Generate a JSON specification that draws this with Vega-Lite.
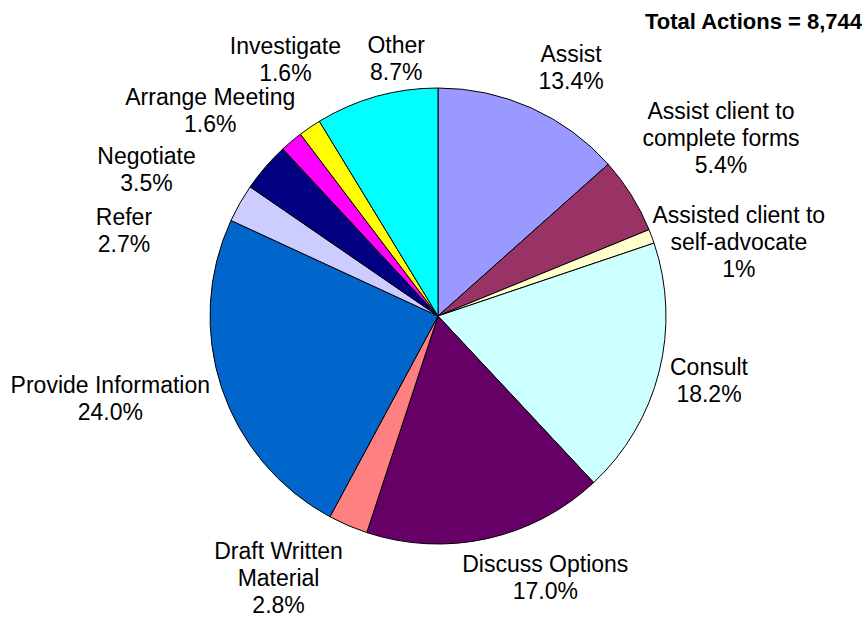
{
  "$schema": "https://vega.github.io/schema/vega-lite/v6.json",
  "width": 848,
  "height": 608,
  "autosize": "none",
  "padding": {"left": 14, "top": 12, "right": 0, "bottom": 0},
  "background": "white",
  "title": {
    "text": "Total Actions = 8,744",
    "anchor": "end",
    "frame": "group",
    "font": "Liberation Sans",
    "fontSize": 22,
    "fontWeight": "bold",
    "color": "black",
    "offset": -60
  },
  "config": {
    "view": {"stroke": null},
    "text": {"font": "Liberation Sans", "fontSize": 23, "lineHeight": 27, "align": "center", "baseline": "middle", "color": "black"}
  },
  "data": {
    "values": [
      {"idx": 1, "cat": "Assist", "pct": 13.4, "label": ["Assist", "13.4%"]},
      {"idx": 2, "cat": "Assist client to complete forms", "pct": 5.4, "label": ["Assist client to", "complete forms", "5.4%"]},
      {"idx": 3, "cat": "Assisted client to self-advocate", "pct": 1.0, "label": ["Assisted client to", "self-advocate", "1%"]},
      {"idx": 4, "cat": "Consult", "pct": 18.2, "label": ["Consult", "18.2%"]},
      {"idx": 5, "cat": "Discuss Options", "pct": 17.0, "label": ["Discuss Options", "17.0%"]},
      {"idx": 6, "cat": "Draft Written Material", "pct": 2.8, "label": ["Draft Written", "Material", "2.8%"]},
      {"idx": 7, "cat": "Provide Information", "pct": 24.0, "label": ["Provide Information", "24.0%"]},
      {"idx": 8, "cat": "Refer", "pct": 2.7, "label": ["Refer", "2.7%"]},
      {"idx": 9, "cat": "Negotiate", "pct": 3.5, "label": ["Negotiate", "3.5%"]},
      {"idx": 10, "cat": "Arrange Meeting", "pct": 1.6, "label": ["Arrange Meeting", "1.6%"]},
      {"idx": 11, "cat": "Investigate", "pct": 1.6, "label": ["Investigate", "1.6%"]},
      {"idx": 12, "cat": "Other", "pct": 8.7, "label": ["Other", "8.7%"]}
    ]
  },
  "encoding": {
    "theta": {"field": "pct", "type": "quantitative", "stack": true},
    "order": {"field": "idx", "type": "quantitative"}
  },
  "layer": [
    {
      "mark": {"type": "arc", "outerRadius": 228, "stroke": "black", "strokeWidth": 1},
      "encoding": {
        "color": {
          "field": "cat",
          "type": "nominal",
          "legend": null,
          "scale": {
            "domain": ["Assist", "Assist client to complete forms", "Assisted client to self-advocate", "Consult", "Discuss Options", "Draft Written Material", "Provide Information", "Refer", "Negotiate", "Arrange Meeting", "Investigate", "Other"],
            "range": ["#9999FF", "#993366", "#FFFFCC", "#CCFFFF", "#660066", "#FF8080", "#0066CC", "#CCCCFF", "#000080", "#FF00FF", "#FFFF00", "#00FFFF"]
          }
        }
      }
    },
    {"mark": {"type": "text", "radius": 293, "thetaOffset": 0.05},
     "encoding": {"text": {"condition": {"test": "datum.idx === 1", "field": "label", "type": "nominal"}, "value": ""}}},
    {"mark": {"type": "text", "radius": 349, "thetaOffset": -0.067},
     "encoding": {"text": {"condition": {"test": "datum.idx === 2", "field": "label", "type": "nominal"}, "value": ""}}},
    {"mark": {"type": "text", "radius": 317, "thetaOffset": 0.036},
     "encoding": {"text": {"condition": {"test": "datum.idx === 3", "field": "label", "type": "nominal"}, "value": ""}}},
    {"mark": {"type": "text", "radius": 276, "thetaOffset": -0.056},
     "encoding": {"text": {"condition": {"test": "datum.idx === 4", "field": "label", "type": "nominal"}, "value": ""}}},
    {"mark": {"type": "text", "radius": 271, "thetaOffset": -0.19},
     "encoding": {"text": {"condition": {"test": "datum.idx === 5", "field": "label", "type": "nominal"}, "value": ""}}},
    {"mark": {"type": "text", "radius": 285, "thetaOffset": 0.188},
     "encoding": {"text": {"condition": {"test": "datum.idx === 6", "field": "label", "type": "nominal"}, "value": ""}}},
    {"mark": {"type": "text", "radius": 335, "thetaOffset": 0.113},
     "encoding": {"text": {"condition": {"test": "datum.idx === 7", "field": "label", "type": "nominal"}, "value": ""}}},
    {"mark": {"type": "text", "radius": 329, "thetaOffset": -0.215},
     "encoding": {"text": {"condition": {"test": "datum.idx === 8", "field": "label", "type": "nominal"}, "value": ""}}},
    {"mark": {"type": "text", "radius": 332, "thetaOffset": -0.213},
     "encoding": {"text": {"condition": {"test": "datum.idx === 9", "field": "label", "type": "nominal"}, "value": ""}}},
    {"mark": {"type": "text", "radius": 315, "thetaOffset": -0.11},
     "encoding": {"text": {"condition": {"test": "datum.idx === 10", "field": "label", "type": "nominal"}, "value": ""}}},
    {"mark": {"type": "text", "radius": 309, "thetaOffset": 0.081},
     "encoding": {"text": {"condition": {"test": "datum.idx === 11", "field": "label", "type": "nominal"}, "value": ""}}},
    {"mark": {"type": "text", "radius": 273, "thetaOffset": 0.12},
     "encoding": {"text": {"condition": {"test": "datum.idx === 12", "field": "label", "type": "nominal"}, "value": ""}}}
  ]
}
